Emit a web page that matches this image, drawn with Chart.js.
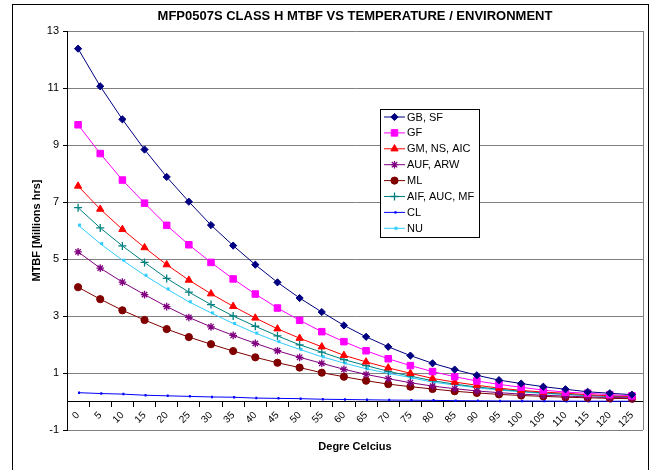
<!DOCTYPE html>
<html><head><meta charset="utf-8">
<script src="https://cdn.jsdelivr.net/npm/chart.js@4.4.0/dist/chart.umd.min.js"></script>
<style>html,body{margin:0;padding:0;background:#fff;}canvas{display:block;}</style>
</head><body>
<canvas id="c" width="650" height="470"></canvas>
<script>
const categories = ['0','5','10','15','20','25','30','35','40','45','50','55','60','65','70','75','80','85','90','95','100','105','110','115','120','125'];
const yTickValues = [-1, 1, 3, 5, 7, 9, 11, 13];
const seriesNames = ['GB, SF', 'GF', 'GM, NS, AIC', 'AUF, ARW', 'ML', 'AIF, AUC, MF', 'CL', 'NU'];
const gbSf = [12.38, 11.06, 9.90, 8.84, 7.88, 7.01, 6.19, 5.47, 4.80, 4.18, 3.63, 3.14, 2.67, 2.27, 1.92, 1.61, 1.34, 1.12, 0.92, 0.75, 0.63, 0.52, 0.43, 0.34, 0.29, 0.24];
const gf = [9.71, 8.70, 7.77, 6.96, 6.18, 5.50, 4.88, 4.30, 3.77, 3.28, 2.85, 2.45, 2.10, 1.78, 1.50, 1.26, 1.05, 0.87, 0.72, 0.60, 0.50, 0.40, 0.33, 0.29, 0.24, 0.20];
const gmNsAic = [7.56, 6.75, 6.04, 5.40, 4.80, 4.26, 3.78, 3.34, 2.93, 2.55, 2.22, 1.92, 1.62, 1.39, 1.18, 0.99, 0.81, 0.68, 0.57, 0.47, 0.39, 0.33, 0.29, 0.24, 0.20, 0.18];
const aufArw = [5.25, 4.68, 4.19, 3.75, 3.33, 2.95, 2.62, 2.32, 2.04, 1.78, 1.55, 1.34, 1.13, 0.95, 0.80, 0.66, 0.54, 0.45, 0.37, 0.31, 0.26, 0.22, 0.19, 0.16, 0.14, 0.13];
const ml = [4.01, 3.59, 3.20, 2.86, 2.54, 2.26, 2.01, 1.77, 1.55, 1.36, 1.19, 1.01, 0.87, 0.73, 0.61, 0.52, 0.44, 0.36, 0.30, 0.25, 0.21, 0.18, 0.15, 0.13, 0.11, 0.10];
const aifAucMf = [6.80, 6.09, 5.46, 4.88, 4.32, 3.84, 3.40, 3.00, 2.64, 2.30, 1.99, 1.73, 1.47, 1.26, 1.06, 0.89, 0.73, 0.61, 0.51, 0.43, 0.36, 0.30, 0.25, 0.21, 0.18, 0.16];
const cl = [0.31, 0.28, 0.26, 0.22, 0.20, 0.18, 0.16, 0.15, 0.12, 0.11, 0.10, 0.08, 0.07, 0.06, 0.05, 0.045, 0.04, 0.03, 0.025, 0.02, 0.018, 0.015, 0.012, 0.01, 0.009, 0.008];
const nu = [6.19, 5.54, 4.96, 4.43, 3.95, 3.50, 3.11, 2.74, 2.40, 2.10, 1.83, 1.57, 1.35, 1.15, 0.99, 0.84, 0.68, 0.58, 0.48, 0.40, 0.34, 0.28, 0.25, 0.21, 0.18, 0.15];

const seriesData = [gbSf, gf, gmNsAic, aufArw, ml, aifAucMf, cl, nu];
const colors = ['#000080', '#FF00FF', '#FF0000', '#800080', '#800000', '#008080', '#0000FF', '#33CCFF'];
const styles = ['rectRot', 'rect', 'triangle', 'star', 'circle', 'cross', 'dash', 'dash'];
const radii = [3.6, 4.6, 4.2, 3.8, 3.6, 4, 2, 3];
const pbw = [1, 1, 1, 1.3, 1, 1.3, 2.5, 3];

Chart.defaults.font.family = '"Liberation Sans", Arial, sans-serif';
Chart.defaults.color = '#000';

const datasets = seriesNames.map((name, i) => ({
  label: name,
  data: seriesData[i],
  borderColor: colors[i],
  backgroundColor: colors[i],
  borderWidth: 1,
  pointStyle: styles[i],
  pointRadius: radii[i],
  pointHoverRadius: radii[i],
  pointBorderWidth: pbw[i],
  pointBackgroundColor: colors[i],
  pointBorderColor: colors[i],
  tension: 0,
  fill: false
}));

const framePlugin = {
  id: 'frame',
  beforeDraw(chart) {
    const ctx = chart.ctx;
    ctx.save();
    ctx.fillStyle = '#fff';
    ctx.fillRect(0, 0, chart.width, chart.height);
    ctx.strokeStyle = '#000';
    ctx.lineWidth = 1;
    ctx.strokeRect(12.5, 4.5, 636, 500);
    ctx.restore();
  },
  beforeDatasetsDraw(chart) {
    const a = chart.chartArea, ctx = chart.ctx;
    ctx.save();
    ctx.strokeStyle = '#808080';
    ctx.lineWidth = 1;
    ctx.beginPath();
    ctx.moveTo(Math.round(a.right) + 0.5, a.top);
    ctx.lineTo(Math.round(a.right) + 0.5, a.bottom);
    ctx.stroke();
    ctx.restore();
  }
};

const legendPlugin = {
  id: 'boxLegend',
  afterDraw(chart) {
    const ctx = chart.ctx;
    const x0 = 380.5, y0 = 109.5, w = 99, h = 128;
    ctx.save();
    ctx.fillStyle = '#fff';
    ctx.fillRect(x0, y0, w, h);
    ctx.strokeStyle = '#000';
    ctx.lineWidth = 1;
    ctx.strokeRect(x0, y0, w, h);
    chart.data.datasets.forEach((ds, i) => {
      const y = 117 + i * 15.9;
      ctx.strokeStyle = ds.borderColor;
      ctx.fillStyle = ds.backgroundColor;
      ctx.lineWidth = 1;
      ctx.beginPath();
      ctx.moveTo(384, y);
      ctx.lineTo(405, y);
      ctx.stroke();
      ctx.lineWidth = ds.pointBorderWidth;
      Chart.helpers.drawPoint(ctx, {pointStyle: ds.pointStyle, radius: ds.pointRadius, borderWidth: ds.pointBorderWidth, rotation: 0}, 394.5, y);
      ctx.fillStyle = '#000';
      ctx.font = '11px "Liberation Sans", Arial, sans-serif';
      ctx.textBaseline = 'middle';
      ctx.textAlign = 'left';
      ctx.fillText(ds.label, 407, y + 0.5);
    });
    ctx.restore();
  }
};

new Chart(document.getElementById('c'), {
  type: 'line',
  data: { labels: categories, datasets: datasets },
  options: {
    responsive: false,
    animation: false,
    events: [],
    layout: { padding: { left: 0, top: 0, right: 7, bottom: 40 } },
    plugins: {
      legend: { display: false },
      tooltip: { enabled: false },
      title: {
        display: true,
        fullSize: false,
        text: 'MFP0507S CLASS H MTBF VS TEMPERATURE / ENVIRONMENT',
        color: '#000',
        font: { size: 13, weight: 'bold' },
        padding: { top: 9, bottom: 6.4 }
      }
    },
    scales: {
      x: {
        type: 'category',
        position: { y: 0 },
        offset: true,
        grid: { display: true, offset: true, drawOnChartArea: false, drawTicks: true, tickLength: 5, color: '#000', tickColor: '#000' },
        border: { display: true, color: '#000', width: 1 },
        ticks: { autoSkip: false, minRotation: 45, maxRotation: 45, padding: 3, color: '#000', font: { size: 10 } },
        title: { display: true, text: 'Degre Celcius', color: '#000', font: { size: 11, weight: 'bold' }, padding: { top: 0, bottom: 7.5 } },
        afterFit(s) { s.height = 60; }
      },
      y: {
        min: -1,
        max: 13,
        afterBuildTicks(s) { s.ticks = yTickValues.map(v => ({ value: v })); },
        grid: { color: '#808080', lineWidth: 1, drawTicks: true, tickLength: 4, tickColor: '#000' },
        border: { display: true, color: '#000', width: 1 },
        ticks: { padding: 4, color: '#000', font: { size: 11 } },
        title: { display: true, text: 'MTBF [Millions hrs]', color: '#000', font: { size: 11, weight: 'bold' }, padding: { top: 30, bottom: 0 } },
        afterFit(s) { s.width = 67; }
      }
    }
  },
  plugins: [framePlugin, legendPlugin]
});
</script>
</body></html>
